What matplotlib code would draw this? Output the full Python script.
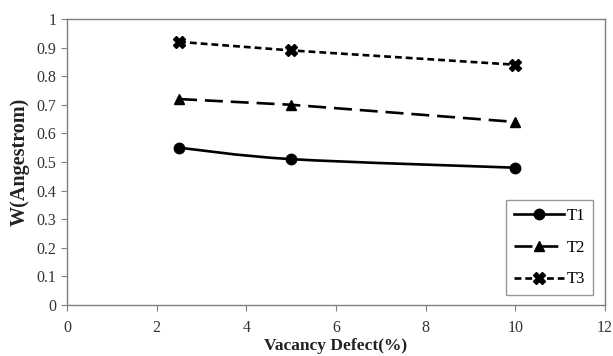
import matplotlib as mpl
mpl.use('Agg')
import matplotlib.pyplot as plt
from matplotlib.path import Path
from matplotlib.patches import PathPatch
from matplotlib.lines import Line2D

plt.rcParams['font.family'] = ['Liberation Serif', 'DejaVu Serif']

vacancy = [2.5, 5, 10]
t1 = [0.55, 0.51, 0.48]
t2 = [0.72, 0.70, 0.64]
t3 = [0.92, 0.89, 0.84]
xticks = [0, 2, 4, 6, 8, 10, 12]
yticks = [0, 0.1, 0.2, 0.3, 0.4, 0.5, 0.6, 0.7, 0.8, 0.9, 1]
ytick_labels = ['0', '0.1', '0.2', '0.3', '0.4', '0.5', '0.6', '0.7',
                '0.8', '0.9', '1']

AXIS_GREY = '#7f7f7f'
LW = 1.9
LONG_DASH = (6.8, 3)
SHORT_DASH = (2.6, 1.5)


def smooth_path(xs, ys):
    """Bezier path through the points, like Excel's smoothed line."""
    verts = [(xs[0], ys[0])]
    codes = [Path.MOVETO]
    n = len(xs)
    for i in range(n - 1):
        x0, y0 = xs[max(i - 1, 0)], ys[max(i - 1, 0)]
        x1, y1 = xs[i], ys[i]
        x2, y2 = xs[i + 1], ys[i + 1]
        x3, y3 = xs[min(i + 2, n - 1)], ys[min(i + 2, n - 1)]
        c1 = (x1 + (x2 - x0) / 6., y1 + (y2 - y0) / 6.)
        c2 = (x2 - (x3 - x1) / 6., y2 - (y3 - y1) / 6.)
        verts += [c1, c2, (x2, y2)]
        codes += [Path.CURVE4] * 3
    return Path(verts, codes)


fig = plt.figure(figsize=(6.13, 3.56), dpi=100)
ax = fig.add_axes([0.1093, 0.1433, 0.8777, 0.8034])

# T1 is drawn as a smoothed curve
ax.add_patch(PathPatch(smooth_path(vacancy, t1), fill=False,
                       edgecolor='black', lw=LW))
ax.plot(vacancy, t1, ls='none', marker='o', ms=7.5, color='black')
ax.plot(vacancy, t2, color='black', lw=LW, dashes=LONG_DASH,
        marker='^', ms=7)
ax.plot(vacancy, t3, color='black', lw=LW, dashes=SHORT_DASH,
        marker='X', ms=8)

ax.set_xlim(0, 12)
ax.set_ylim(0, 1)
ax.set_xticks(xticks)
ax.set_yticks(yticks)
ax.set_yticklabels(ytick_labels)
ax.tick_params(direction='out', length=4, color=AXIS_GREY,
               labelsize=11.5, labelcolor='#333333')
ax.tick_params(axis='x', pad=7)
for sp in ax.spines.values():
    sp.set_color(AXIS_GREY)
    sp.set_linewidth(1.0)

ax.set_xlabel('Vacancy Defect(%)', fontsize=12.5, fontweight='bold',
              color='#222222', labelpad=1)
ax.set_ylabel('W(Angestrom)', fontsize=14.5, fontweight='bold',
              color='#222222', labelpad=5)

handles = [
    Line2D([], [], color='black', lw=LW, marker='o', ms=7.5),
    Line2D([], [], color='black', lw=LW, dashes=LONG_DASH, marker='^', ms=7),
    Line2D([], [], color='black', lw=LW, dashes=SHORT_DASH, marker='X', ms=8),
]
leg = ax.legend(handles, ['T1', 'T2', 'T3'], loc='lower right',
                bbox_to_anchor=(0.978, 0.035), fontsize=12, frameon=True,
                fancybox=False, edgecolor=AXIS_GREY, handlelength=3,
                labelspacing=0.95, borderpad=0.45, handletextpad=0.2,
                borderaxespad=0)
leg.get_frame().set_linewidth(1.0)

fig.savefig('out.png', dpi=100)
